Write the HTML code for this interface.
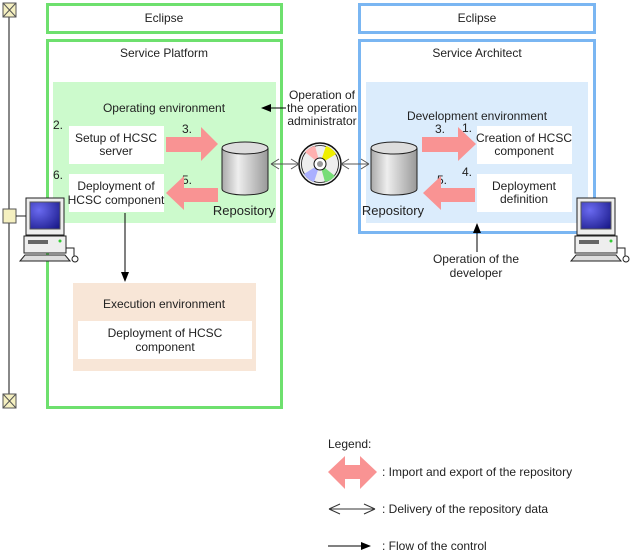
<!DOCTYPE html>
<html><head><meta charset="utf-8"><style>
html,body{margin:0;padding:0;background:#fff;}
svg{display:block;font-family:"Liberation Sans",Arial,sans-serif;}
text{font-size:12px;fill:#222;}
</style></head><body>
<svg width="635" height="556" viewBox="0 0 635 556" xmlns="http://www.w3.org/2000/svg">
<defs>
<linearGradient id="cyl" x1="0" x2="1"><stop offset="0" stop-color="#aaa"/><stop offset="0.35" stop-color="#eee"/><stop offset="1" stop-color="#999"/></linearGradient>
<radialGradient id="scr" cx="0.3" cy="0.3" r="0.9"><stop offset="0" stop-color="#6a6af0"/><stop offset="1" stop-color="#1a1a8a"/></radialGradient>
<marker id="ah" markerWidth="10" markerHeight="8" refX="9" refY="4" orient="auto" markerUnits="userSpaceOnUse"><path d="M0,0 L10,4 L0,8 z" fill="#000"/></marker>
<g id="cyl1"><path d="M0,7 L0,48 A23,6 0 0 0 46,48 L46,7" fill="url(#cyl)" stroke="#222" stroke-width="1"/><ellipse cx="23" cy="7" rx="23" ry="6" fill="#ddd" stroke="#222"/></g>
<g id="pc">
<rect x="4" y="0" width="38" height="37" fill="#eee" stroke="#222"/>
<rect x="8" y="4" width="30" height="27" fill="url(#scr)" stroke="#555"/>
<rect x="2" y="38" width="42" height="17" fill="#eee" stroke="#222"/>
<rect x="6" y="42" width="20" height="4" fill="#666"/>
<circle cx="38" cy="43" r="1.5" fill="#3c3"/>
<path d="M3,57 L43,57 L48,63 L-2,63 z" fill="#ddd" stroke="#222"/>
<path d="M44,50 L52,50 L52,58" fill="none" stroke="#222"/><circle cx="53" cy="61" r="3" fill="#fff" stroke="#222"/>
</g>
</defs>

<!-- left timeline -->
<line x1="9" y1="10" x2="9" y2="402" stroke="#888" stroke-width="2"/>
<rect x="3" y="3" width="13" height="14" fill="#f5f0c0" stroke="#555"/><path d="M3,3 L16,17 M16,3 L3,17" stroke="#555"/>
<rect x="3" y="394" width="13" height="14" fill="#f5f0c0" stroke="#555"/><path d="M3,394 L16,408 M16,394 L3,408" stroke="#555"/>
<rect x="3" y="209" width="13" height="14" fill="#f5f0c0" stroke="#555"/>
<line x1="16" y1="216" x2="26" y2="216" stroke="#222"/>

<!-- Eclipse boxes -->
<rect x="47.5" y="4.5" width="234" height="28" fill="#fff" stroke="#6ee06e" stroke-width="3"/>
<text x="164" y="22" text-anchor="middle">Eclipse</text>
<rect x="359.5" y="4.5" width="235" height="28" fill="#fff" stroke="#7ab6f2" stroke-width="3"/>
<text x="477" y="22" text-anchor="middle">Eclipse</text>

<!-- Service Platform -->
<rect x="47.5" y="40.5" width="234" height="367" fill="#fff" stroke="#6ee06e" stroke-width="3"/>
<text x="164" y="57" text-anchor="middle">Service Platform</text>
<rect x="53" y="82" width="223" height="141" fill="#ccfacc"/>
<text x="164" y="112" text-anchor="middle">Operating environment</text>
<text x="53" y="129">2.</text>
<rect x="69" y="126" width="95" height="38" fill="#fff"/>
<text x="116" y="142" text-anchor="middle">Setup of HCSC</text>
<text x="116" y="155" text-anchor="middle">server</text>
<text x="53" y="179">6.</text>
<rect x="69" y="174" width="95" height="38" fill="#fff"/>
<text x="116" y="190" text-anchor="middle">Deployment of</text>
<text x="116" y="204" text-anchor="middle">HCSC component</text>
<text x="182" y="133">3.</text>
<path d="M166,137 L201,137 L201,127 L218,144 L201,161 L201,152 L166,152 z" fill="#f99393"/>
<text x="182" y="184">5.</text>
<path d="M218,188 L184,188 L184,176 L166,193 L184,210 L184,202 L218,202 z" fill="#f99393"/>
<use href="#cyl1" x="222" y="141"/>
<text x="244" y="215" text-anchor="middle" style="font-size:13px">Repository</text>
<line x1="125" y1="213" x2="125" y2="281" stroke="#000" marker-end="url(#ah)"/>
<rect x="73" y="283" width="183" height="88" fill="#f8e6d7"/>
<text x="164" y="308" text-anchor="middle">Execution environment</text>
<rect x="78" y="321" width="174" height="38" fill="#fff"/>
<text x="165" y="337" text-anchor="middle">Deployment of HCSC</text>
<text x="165" y="351" text-anchor="middle">component</text>

<!-- Service Architect -->
<rect x="359.5" y="40.5" width="235" height="192" fill="#fff" stroke="#7ab6f2" stroke-width="3"/>
<text x="477" y="57" text-anchor="middle">Service Architect</text>
<rect x="366" y="82" width="222" height="141" fill="#dbecfc"/>
<text x="477" y="120" text-anchor="middle">Development environment</text>
<text x="435" y="133">3.</text>
<text x="462" y="132">1.</text>
<path d="M422,137 L458,137 L458,127 L476,144 L458,161 L458,152 L422,152 z" fill="#f99393"/>
<rect x="477" y="126" width="95" height="38" fill="#fff"/>
<text x="524" y="142" text-anchor="middle">Creation of HCSC</text>
<text x="524" y="155" text-anchor="middle">component</text>
<text x="462" y="176">4.</text>
<text x="437" y="184">5.</text>
<path d="M475,188 L441,188 L441,176 L423,193 L441,210 L441,202 L475,202 z" fill="#f99393"/>
<rect x="477" y="174" width="95" height="38" fill="#fff"/>
<text x="524" y="190" text-anchor="middle">Deployment</text>
<text x="524" y="203" text-anchor="middle">definition</text>
<use href="#cyl1" x="371" y="141"/>
<text x="393" y="215" text-anchor="middle" style="font-size:13px">Repository</text>

<!-- annotations -->
<text x="322" y="99" text-anchor="middle">Operation of</text>
<text x="322" y="112" text-anchor="middle">the operation</text>
<text x="322" y="125" text-anchor="middle">administrator</text>
<line x1="286" y1="108" x2="262" y2="108" stroke="#000" marker-end="url(#ah)"/>
<line x1="477" y1="252" x2="477" y2="224" stroke="#000" marker-end="url(#ah)"/>
<text x="476" y="263" text-anchor="middle">Operation of the</text>
<text x="476" y="277" text-anchor="middle">developer</text>

<!-- CD -->
<circle cx="320" cy="164" r="21" fill="#eee" stroke="#111" stroke-width="1.5"/>
<circle cx="320" cy="164" r="18.5" fill="none" stroke="#111" stroke-width="0.8"/>
<path d="M320,164 L305,152 A19,19 0 0 1 315,146 z" fill="#ffb0b0"/>
<path d="M320,164 L326,146 A19,19 0 0 1 336,154 z" fill="#eeee00"/>
<path d="M320,164 L335,176 A19,19 0 0 1 325,182 z" fill="#77dd77"/>
<path d="M320,164 L314,182 A19,19 0 0 1 304,174 z" fill="#aab0ff"/>
<circle cx="320" cy="164" r="6" fill="#fff" stroke="#111"/>
<circle cx="320" cy="164" r="3" fill="#999"/>
<path d="M271,164 L299,164 M271,164 L279,159 M271,164 L279,169 M299,164 L291,159 M299,164 L291,169" stroke="#555" fill="none"/>
<path d="M341,164 L369,164 M341,164 L349,159 M341,164 L349,169 M369,164 L361,159 M369,164 L361,169" stroke="#555" fill="none"/>

<!-- computers -->
<use href="#pc" x="22" y="198"/>
<use href="#pc" x="573" y="198"/>

<!-- legend -->
<text x="328" y="448">Legend:</text>
<path d="M328,472 L345,456 L345,465 L360,465 L360,456 L377,472 L360,489 L360,479 L345,479 L345,489 z" fill="#f99393"/>
<text x="382" y="476">: Import and export of the repository</text>
<path d="M329,509 L375,509 M329,509 L340,504 M329,509 L340,514 M375,509 L364,504 M375,509 L364,514" stroke="#333" fill="none"/>
<text x="382" y="513">: Delivery of the repository data</text>
<line x1="328" y1="546" x2="370" y2="546" stroke="#000" marker-end="url(#ah)"/>
<text x="382" y="550">: Flow of the control</text>
</svg>
</body></html>
